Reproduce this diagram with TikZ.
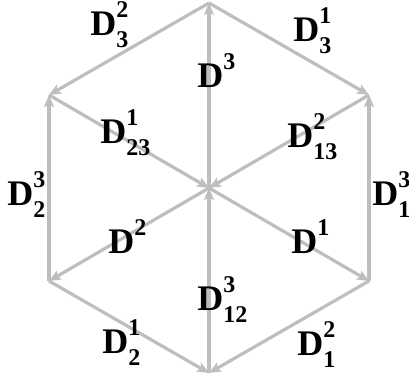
\documentclass[tikz,border=0pt]{standalone}
\usepackage{fontspec}
\setmainfont{Liberation Serif}
\usepackage{tikz}
\usetikzlibrary{arrows.meta}

\definecolor{edgegray}{RGB}{190,190,190}

\newlength\dsupw
\newlength\dsubw
\newcommand{\dlab}[2]{D{\fontsize{18}{18}\selectfont
  \settowidth\dsupw{#1}\settowidth\dsubw{#2}%
  \ifdim\dsubw>\dsupw \setlength\dsupw{\dsubw}\fi
  \rlap{\raisebox{13.5pt}{#1}}\raisebox{-9pt}{\makebox[\dsupw][l]{#2}}}}

\begin{document}
\begin{tikzpicture}[
    x=0.75pt, y=-0.75pt,
    arrow/.style={-{Stealth[length=9pt, width=7.5pt, inset=2pt]}, draw=edgegray, fill=edgegray, line width=2.4pt},
    lab/.style={anchor=base west, inner sep=0pt, font=\bfseries\fontsize{27}{29}\selectfont}
]
\useasboundingbox (0,0) rectangle (409,381);

% Vertices
\coordinate (top) at (209,3);
\coordinate (upright) at (369,95);
\coordinate (lowright) at (369,281);
\coordinate (bottom) at (209,373);
\coordinate (lowleft) at (49,281);
\coordinate (upleft) at (49,95);
\coordinate (centre) at (209,188);

% Arrows
\draw[arrow] (top) -- (upleft);
\draw[arrow] (top) -- (upright);
\draw[arrow] (centre) -- (top);
\draw[arrow] (upleft) -- (centre);
\draw[arrow] (upright) -- (centre);
\draw[arrow] (lowleft) -- (upleft);
\draw[arrow] (lowright) -- (upright);
\draw[arrow] (centre) -- (lowleft);
\draw[arrow] (centre) -- (lowright);
\draw[arrow] (bottom) -- (centre);
\draw[arrow] (lowleft) -- (bottom);
\draw[arrow] (lowright) -- (bottom);

% Labels
\node[lab] (d32) at (90,36) {\dlab{2}{3}};
\node[lab] (d31) at (293,42) {\dlab{1}{3}};
\node[lab] (d3) at (197,88) {\dlab{3}{}};
\node[lab] (d231) at (100,143) {\dlab{1}{23}};
\node[lab] (d132) at (287,147) {\dlab{2}{13}};
\node[lab] (d23) at (7,205) {\dlab{3}{2}};
\node[lab] (d13) at (372,205) {\dlab{3}{1}};
\node[lab] (d2) at (108,253) {\dlab{2}{}};
\node[lab] (d1) at (291,253) {\dlab{1}{}};
\node[lab] (d123) at (197,310) {\dlab{3}{12}};
\node[lab] (d21) at (102,353) {\dlab{1}{2}};
\node[lab] (d12) at (297,355) {\dlab{2}{1}};

\end{tikzpicture}
\end{document}
